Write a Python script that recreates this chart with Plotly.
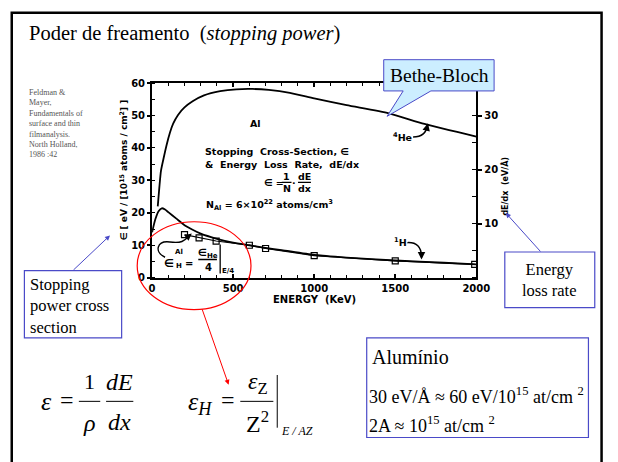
import plotly.graph_objects as go

W, H = 618, 462

# ---------------- data ----------------
he_energy = [35, 45, 55, 70, 90, 110, 130, 160, 200, 250, 320, 420, 520, 620, 720, 850, 1000, 1200, 1460, 1680, 2000]
he_eps = [22, 28, 33, 36.6, 41, 44.7, 47.5, 50.2, 52.5, 54.4, 56.2, 57.5, 58.1, 58.2, 57.9, 57.0, 55.3, 53.2, 50.7, 47.4, 43.5]

h_energy = [0, 20, 40, 60, 80, 100, 150, 200, 250, 300, 400, 500, 600, 700, 800, 1000, 1200, 1500, 1800, 2000]
h_eps = [14, 18, 20.5, 21.4, 21, 20.2, 18.2, 16.2, 14.8, 13.6, 12, 10.8, 10, 9.2, 8.5, 7.0, 6.2, 5.3, 4.6, 4.1]

sq_energy = [200, 290, 395, 600, 700, 1000, 1500, 1990]
sq_eps = [13.3, 12.3, 11.3, 10, 9, 6.8, 5.2, 4.1]

x_ticks = [0, 500, 1000, 1500, 2000]
y_ticks = [0, 10, 20, 30, 40, 50, 60]
y2_ticks = [10, 20, 30]

# ---------------- helpers ----------------
def px(x):
    return x / W

def py(y):
    return 1 - y / H

SERIF = "Liberation Serif"
SANS = "DejaVu Sans"
BLUE = "#4a4ac8"
PLOTFONT = dict(family=SANS, size=10, color="black", weight="bold")

fig = go.Figure()

fig.add_trace(go.Scatter(x=he_energy, y=he_eps, mode="lines",
                         line=dict(color="black", width=1.8, shape="spline", smoothing=0.6),
                         showlegend=False, hoverinfo="skip"))
fig.add_trace(go.Scatter(x=h_energy, y=h_eps, mode="lines",
                         line=dict(color="black", width=1.8, shape="spline", smoothing=0.6),
                         showlegend=False, hoverinfo="skip"))
fig.add_trace(go.Scatter(x=sq_energy, y=sq_eps, mode="lines+markers",
                         line=dict(color="black", width=1.2),
                         marker=dict(symbol="square-open", size=6, color="black", line=dict(width=1.2)),
                         showlegend=False, hoverinfo="skip"))
# invisible trace on right axis so it is drawn
fig.add_trace(go.Scatter(x=[0], y=[0], yaxis="y2", mode="markers",
                         marker=dict(opacity=0), showlegend=False, hoverinfo="skip"))

xd = [153.3 / W, 486.7 / W]
yd = [py(278.3), py(79)]

fig.update_layout(
    width=W, height=H, margin=dict(l=0, r=0, t=0, b=0),
    paper_bgcolor="white", plot_bgcolor="white",
    xaxis=dict(domain=xd, range=[0, 2000], tickvals=x_ticks, showgrid=False, zeroline=False,
               showline=True, linecolor="black", linewidth=2, mirror="ticks",
               ticks="inside", ticklen=4, tickwidth=1.5, tickcolor="black",
               minor=dict(dtick=100, ticks="inside", ticklen=3, tickwidth=1, tickcolor="black"),
               tickfont=PLOTFONT, anchor="y"),
    yaxis=dict(domain=yd, range=[0, 60], tickvals=y_ticks, showgrid=False, zeroline=False,
               showline=True, linecolor="black", linewidth=2, mirror=True,
               ticks="outside", ticklen=3, tickwidth=1.5, tickcolor="black",
               minor=dict(dtick=5, ticks="inside", ticklen=3, tickwidth=1, tickcolor="black"),
               tickfont=PLOTFONT, anchor="x"),
    yaxis2=dict(overlaying="y", side="right", range=[0, 36], tickvals=y2_ticks,
                showgrid=False, zeroline=False, showline=True, linecolor="black", linewidth=2,
                ticks="outside", ticklen=4, tickwidth=1.5, tickcolor="black",
                minor=dict(dtick=5, ticks="inside", ticklen=4, tickwidth=1, tickcolor="black"),
                tickfont=PLOTFONT, anchor="x"),
)

ann = []
shapes = []

def T(text, x, y, size, family=SERIF, xa="center", ya="middle", color="black", angle=0, ref="paper", weight="normal", align="left"):
    if ref == "paper":
        d = dict(x=px(x), y=py(y), xref="paper", yref="paper")
    else:
        d = dict(x=x, y=y, xref="x", yref="y")
    d.update(text=text, showarrow=False, xanchor=xa, yanchor=ya, textangle=angle, align=align,
             font=dict(family=family, size=size, color=color, weight=weight))
    ann.append(d)

def PT(text, x, y, size=9.5, xa="center", ya="middle"):
    T(text, x, y, size, family=SANS, xa=xa, ya=ya, ref="data", weight="bold")

# ---- slide frame ----
shapes.append(dict(type="rect", xref="paper", yref="paper", x0=px(9), x1=px(615.5), y0=py(7), y1=py(480),
                   line=dict(color="black", width=2.5), layer="above"))

# ---- title ----
T("Poder de freamento  (<i>stopping power</i>)", 25, 28, 20.5, xa="left")

# ---- reference note ----
T("Feldman &<br>Mayer,<br>Fundamentals of<br>surface and thin<br>filmanalysis.<br>North Holland,<br>1986 :42",
  25, 82, 8, xa="left", ya="top", color="#555555")

# ---- axis titles (inside the scanned plot) ----
T("ENERGY  (KeV)", 320, 301, 10, family=SANS, weight="bold")
T("∈ [ eV / [10<sup>15</sup> atoms / cm<sup>2</sup>] ]", 124, 168, 9, family=SANS, angle=-90, weight="bold")
T("dE/dx  (eV/Å)", 509, 184, 8, family=SANS, angle=-90, weight="bold", xa="left")

# ---- text inside the plot (data coordinates) ----
PT("Al", 640, 47.6)
PT("Stopping  Cross-Section, ∈", 315, 39, xa="left")
PT("&  Energy  Loss  Rate,  dE/dx", 315, 35, xa="left")
PT("∈ =", 755, 29.5)
PT("1", 830, 31.3)
PT("N", 830, 27.6)
PT("·", 876, 29.5)
PT("dE", 940, 31.3)
PT("dx", 940, 27.6)
shapes.append(dict(type="line", xref="x", yref="y", x0=800, x1=860, y0=29.4, y1=29.4, line=dict(color="black", width=1.2)))
shapes.append(dict(type="line", xref="x", yref="y", x0=900, x1=980, y0=29.4, y1=29.4, line=dict(color="black", width=1.2)))
PT("N<sub>Al</sub> = 6×10<sup>22</sup> atoms/cm<sup>3</sup>", 320, 22.4, xa="left")

PT("<sup>4</sup>He", 1545, 43.4)
shapes.append(dict(type="path", xref="x", yref="y", path="M 1610,43.4 Q 1690,43.4 1700,47.2",
                   line=dict(color="black", width=1.5)))
ann.append(dict(x=1702, y=47.6, ax=1690, ay=45.2, xref="x", yref="y", axref="x", ayref="y", text="",
                showarrow=True, arrowhead=2, arrowsize=1, arrowwidth=1.5, arrowcolor="black"))

PT("<sup>1</sup>H", 1535, 11.0)
shapes.append(dict(type="path", xref="x", yref="y", path="M 1575,10.8 Q 1660,11 1662,6.5",
                   line=dict(color="black", width=1.5)))
ann.append(dict(x=1662, y=5.6, ax=1662, ay=7.5, xref="x", yref="y", axref="x", ayref="y", text="",
                showarrow=True, arrowhead=2, arrowsize=1, arrowwidth=1.5, arrowcolor="black"))

# epsilon_H^Al = eps_He/4 |_E/4
PT("∈", 105, 4.5, size=11)
PT("Al", 165, 7.8, size=7)
PT("H", 165, 3.6, size=7)
PT("=", 225, 4.5, size=10)
PT("∈<sub>He</sub>", 345, 7.6, size=10)
PT("4", 345, 3.2, size=10)
shapes.append(dict(type="line", xref="x", yref="y", x0=285, x1=400, y0=5.6, y1=5.6, line=dict(color="black", width=1.3)))
shapes.append(dict(type="line", xref="x", yref="y", x0=420, x1=420, y0=1.3, y1=10.2, line=dict(color="black", width=1.3)))
PT("E/4", 470, 2.0, size=7)
shapes.append(dict(type="path", xref="x", yref="y", path="M 80,6.3 C 10,8 30,11.5 110,11 S 200,11.5 235,13.2",
                   line=dict(color="black", width=1.4)))
ann.append(dict(x=245, y=13.6, ax=225, ay=12.8, xref="x", yref="y", axref="x", ayref="y", text="",
                showarrow=True, arrowhead=2, arrowsize=1, arrowwidth=1.4, arrowcolor="black"))

# ---- Bethe-Bloch callout ----
def path_px(points):
    s = "M " + " L ".join(f"{px(a):.5f},{py(b):.5f}" for a, b in points) + " Z"
    return s

shapes.append(dict(type="path", xref="paper", yref="paper",
                   path=path_px([(391.5, 55), (505, 55), (505, 87), (440, 87), (395, 113), (411.5, 87), (391.5, 87)]),
                   fillcolor="#cceeff", line=dict(color=BLUE, width=1), layer="above"))
T("Bethe-Bloch", 448.5, 71.5, 19.5)

# ---- Stopping power cross section box ----
shapes.append(dict(type="rect", xref="paper", yref="paper", x0=px(22), x1=px(122), y0=py(271), y1=py(340),
                   line=dict(color=BLUE, width=1.2), fillcolor="white", layer="above"))
T("Stopping<br>power cross<br>section", 26, 307, 16.5, xa="left", align="left")
ann.append(dict(x=px(110), y=py(235), ax=-38, ay=36, xref="paper", yref="paper", text="",
                showarrow=True, arrowhead=2, arrowsize=1, arrowwidth=1, arrowcolor=BLUE))

# ---- Energy loss rate box ----
shapes.append(dict(type="rect", xref="paper", yref="paper", x0=px(516), x1=px(608.5), y0=py(252), y1=py(309),
                   line=dict(color=BLUE, width=1.2), fillcolor="white", layer="above"))
T("Energy<br>loss rate", 562, 281, 16.5, align="center")
ann.append(dict(x=px(517), y=py(212), ax=36, ay=40, xref="paper", yref="paper", text="",
                showarrow=True, arrowhead=2, arrowsize=1, arrowwidth=1, arrowcolor=BLUE))

# ---- red ellipse and arrow ----
shapes.append(dict(type="circle", xref="paper", yref="paper", x0=px(138), x1=px(255), y0=py(221), y1=py(311),
                   line=dict(color="red", width=1.2), layer="above"))
ann.append(dict(x=px(232), y=py(388), ax=-27, ay=-77, xref="paper", yref="paper", text="",
                showarrow=True, arrowhead=2, arrowsize=1, arrowwidth=1, arrowcolor="red"))

# ---- formula 1: eps = 1/rho dE/dx ----
T("<i>ε</i>", 45, 405, 26)
T("=", 66, 404, 24)
T("1", 89, 385, 22)
T("<i>ρ</i>", 89, 427, 24)
T("<i>dE</i>", 120, 385, 24)
T("<i>dx</i>", 120, 426, 24)
shapes.append(dict(type="line", xref="paper", yref="paper", x0=px(78), x1=px(100), y0=py(405), y1=py(405), line=dict(color="black", width=1)))
shapes.append(dict(type="line", xref="paper", yref="paper", x0=px(106), x1=px(134), y0=py(405), y1=py(405), line=dict(color="black", width=1)))

# ---- formula 2: eps_H = eps_Z/Z^2 |_E/AZ ----
T("<i>ε</i><sub><i>H</i></sub>", 203, 407, 26)
T("=", 231, 404, 24)
T("<i>ε</i><sub>Z</sub>", 262, 386, 24)
T("Z<sup>2</sup>", 262, 426, 24)
shapes.append(dict(type="line", xref="paper", yref="paper", x0=px(244), x1=px(278), y0=py(405), y1=py(405), line=dict(color="black", width=1)))
shapes.append(dict(type="line", xref="paper", yref="paper", x0=px(282), x1=px(282), y0=py(378), y1=py(432), line=dict(color="black", width=1)))
T("<i>E / AZ</i>", 284, 435, 12, xa="left")

# ---- Aluminio box ----
shapes.append(dict(type="rect", xref="paper", yref="paper", x0=px(374), x1=px(602), y0=py(340), y1=py(442),
                   line=dict(color=BLUE, width=1.2), fillcolor="white", layer="above"))
T("Alumínio", 377, 360, 20, xa="left")
T("30 eV/Å ≈ 60 eV/10<sup>15</sup> at/cm <sup>2</sup>", 374, 399, 18, xa="left")
T("2A ≈ 10<sup>15</sup> at/cm <sup>2</sup>", 374, 429, 18, xa="left")

fig.update_layout(annotations=ann, shapes=shapes)
fig.write_html("out.html")
